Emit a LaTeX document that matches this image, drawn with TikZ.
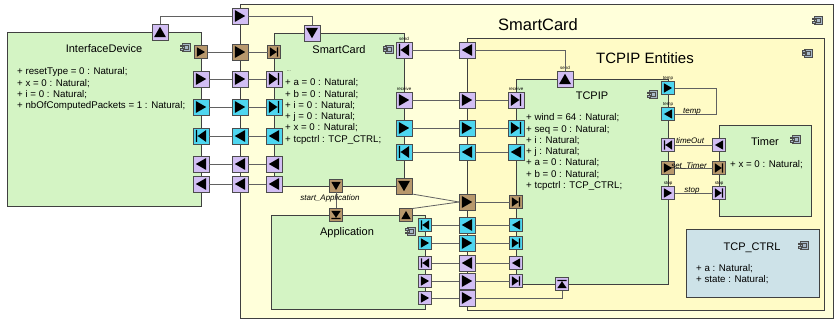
\documentclass[tikz,border=0pt]{standalone}
\usepackage{fontspec}
\setmainfont{Liberation Sans}
\usetikzlibrary{positioning}
\definecolor{frameyel}{HTML}{FFFFDA}
\definecolor{entyel}{HTML}{FFFBC6}
\definecolor{compgrn}{HTML}{D4F4C4}
\definecolor{ctrlblue}{HTML}{CDE2E8}
\definecolor{portpur}{HTML}{D2BEF4}
\definecolor{portcyan}{HTML}{4ED6F0}
\definecolor{portbrn}{HTML}{B8986C}
\definecolor{iconblue}{HTML}{A8B8C8}

\begin{document}
\begin{tikzpicture}[x=1pt, y=-1pt,
  blk/.style={draw=black!75, line width=0.9pt, inner sep=0pt, outer sep=0pt, anchor=north west},
  comp/.style={blk, fill=compgrn},
  wire/.style={draw=black!62, line width=0.8pt},
  tsz/.store in=\tsz, tsz=1,
  port/.style={draw=black!70, line width=0.8pt, inner sep=0pt, outer sep=0pt, minimum size=16pt},
  sm/.style={minimum size=13pt, tsz=0.78},
  pp/.style={port, fill=portpur},
  cp/.style={port, fill=portcyan},
  bp/.style={port, fill=portbrn},
  tri/.style={path picture={\fill[black, shift={(path picture bounding box.center)}, x=\tsz pt, y=\tsz pt] #1;}},
  goR/.style={tri={(-5.2,6) -- (5.2,0) -- (-5.2,-6) -- cycle}},
  goL/.style={tri={(5.2,6) -- (-5.2,0) -- (5.2,-6) -- cycle}},
  goU/.style={tri={(-6,-5.2) -- (0,5.2) -- (6,-5.2) -- cycle}},
  goD/.style={tri={(-6,5.2) -- (0,-5.2) -- (6,5.2) -- cycle}},
  goRb/.style={tri={(-5.2,6) -- (3.4,0) -- (-5.2,-6) -- cycle (3.8,6) rectangle (5.2,-6)}},
  goLb/.style={tri={(5.2,6) -- (-3.4,0) -- (5.2,-6) -- cycle (-3.8,6) rectangle (-5.2,-6)}},
  goUb/.style={tri={(-6,-5.2) -- (0,3.4) -- (6,-5.2) -- cycle (-6,3.8) rectangle (6,5.2)}},
  goDb/.style={tri={(-6,5.2) -- (0,-3.4) -- (6,5.2) -- cycle (-6,-3.8) rectangle (6,-5.2)}},
  ttl/.style={font=\fontsize{11}{13}\selectfont, inner sep=0pt, anchor=base},
  attr/.style={font=\fontsize{9.7}{11.3}\selectfont, align=left, inner sep=0pt, anchor=north west},
  wlab/.style={font=\fontsize{8}{9}\selectfont\itshape, inner sep=0pt, anchor=base},
  plab/.style={font=\fontsize{4.5}{5}\selectfont, inner sep=0pt},
  cicon/.pic={
    \draw[black!70, fill=iconblue, line width=0.6pt] (-3,-4) rectangle (5,4);
    \draw[black!70, line width=0.5pt] (-1,-2) rectangle (3,2);
    \draw[black!70, fill=iconblue, line width=0.6pt] (-5,-2.6) rectangle (-1.5,-0.8) (-5,0.8) rectangle (-1.5,2.6);}]
  \useasboundingbox (0,0) rectangle (834,320);

  \node[blk, fill=frameyel, minimum width=593pt, minimum height=314pt] (outer) at (240,4) {};
  \node[blk, fill=entyel, minimum width=357pt, minimum height=272pt] (ent) at (467,38) {};
  \node[comp, minimum width=194pt, minimum height=174pt] (idev) at (7,32) {};
  \node[comp, minimum width=130pt, minimum height=153pt] (scard) at (274,33) {};
  \node[comp, minimum width=154pt, minimum height=94pt] (app) at (271,215) {};
  \node[comp, minimum width=152pt, minimum height=205pt] (tcpip) at (516,79) {};
  \node[comp, minimum width=92pt, minimum height=91pt] (timer) at (719,125) {};
  \node[blk, fill=ctrlblue, minimum width=133pt, minimum height=68pt] (ctrl) at (686,229) {};

  \node[ttl, font=\fontsize{16.5}{18}\selectfont] (outerT) at (538,31) {SmartCard};
  \node[ttl, font=\fontsize{15}{17}\selectfont] (entT) at (645,64) {TCPIP Entities};
  \node[ttl] (idevT) at (104,52.5) {InterfaceDevice};
  \node[ttl] (scardT) at (339,53.5) {SmartCard};
  \node[ttl] (appT) at (347,236) {Application};
  \node[ttl] (tcpipT) at (592,100) {TCPIP};
  \node[ttl] (timerT) at (765,146) {Timer};
  \node[ttl] (ctrlT) at (752,251) {TCP\_CTRL};

  \pic at (817,20.5) {cicon};
  \pic at (807,53) {cicon};
  \pic at (185,47.5) {cicon};
  \pic at (388,49) {cicon};
  \pic at (410,231) {cicon};
  \pic at (652,94.5) {cicon};
  \pic at (795,139.5) {cicon};
  \pic at (803,245.5) {cicon};

  \node[attr] (idevA) at (17,67.5) {+ resetType = 0 : Natural;\\+ x = 0 : Natural;\\+ i = 0 : Natural;\\+ nbOfComputedPackets = 1 : Natural;};
  \node[plab] (scDots) at (289,71) {...};
  \node[attr] (scardA) at (285,78.5) {+ a = 0 : Natural;\\+ b = 0 : Natural;\\+ i = 0 : Natural;\\+ j = 0 : Natural;\\+ x = 0 : Natural;\\+ tcpctrl : TCP\_CTRL;};
  \node[attr] (tcpipA) at (526,113.5) {+ wind = 64 : Natural;\\+ seq = 0 : Natural;\\+ i : Natural;\\+ j : Natural;\\+ a = 0 : Natural;\\+ b = 0 : Natural;\\+ tcpctrl : TCP\_CTRL;};
  \node[attr] (timerA) at (730,160) {+ x = 0 : Natural;};
  \node[attr] (ctrlA) at (696,264.3) {+ a : Natural;\\+ state : Natural;};

  \node[pp,goU] (idU) at (160,32) {};
  \node[pp,goR] (oT) at (240,16) {};
  \node[pp,goD] (scT) at (312,33) {};

  \node[bp,sm,goR] (id1) at (201,52) {};
  \node[bp,goR] (o1) at (240,52) {};
  \node[bp,sm,goRb] (sc1) at (274,52) {};
  \node[pp,goR] (id2) at (201,79) {};
  \node[pp,goR] (o2) at (240,79) {};
  \node[pp,goRb] (sc2) at (274,79) {};
  \node[cp,goR] (id3) at (201,107) {};
  \node[cp,goR] (o3) at (240,107) {};
  \node[cp,goRb] (sc3) at (274,107) {};
  \node[cp,goLb] (id4) at (201,136) {};
  \node[cp,goL] (o4) at (240,136) {};
  \node[cp,goL] (sc4) at (274,136) {};
  \node[pp,goL] (id5) at (201,164) {};
  \node[pp,goL] (o5) at (240,164) {};
  \node[pp,goL] (sc5) at (274,164) {};
  \node[pp,goL] (id6) at (201,184) {};
  \node[pp,goL] (o6) at (240,184) {};
  \node[pp,goL] (sc6) at (274,184) {};

  \node[pp,goLb] (scS) at (404,50) {};
  \node[pp,goR] (scR) at (404,100) {};
  \node[cp,goR] (sc7) at (404,128) {};
  \node[cp,goLb] (sc8) at (404,152) {};
  \node[bp,goD] (scB) at (404,186) {};
  \node[bp,sm,goD] (scA) at (336,186) {};

  \node[pp,goL] (mS) at (467,50) {};
  \node[pp,goR] (mR) at (467,100) {};
  \node[cp,goR] (m7) at (467,128) {};
  \node[cp,goL] (m8) at (467,152) {};
  \node[bp,goR] (mB) at (467,202) {};
  \node[cp,goL] (m9) at (467,225) {};
  \node[cp,goR] (m10) at (467,243) {};
  \node[pp,goL] (m11) at (467,263) {};
  \node[pp,goR] (m12) at (467,281) {};
  \node[pp,goR] (m13) at (467,298) {};

  \node[pp,goRb] (tR) at (516,100) {};
  \node[cp,goRb] (t7) at (516,128) {};
  \node[cp,goL] (t8) at (516,152) {};
  \node[bp,sm,goRb] (tB) at (516,202) {};
  \node[cp,sm,goL] (t9) at (516,225) {};
  \node[cp,sm,goRb] (t10) at (516,243) {};
  \node[pp,sm,goL] (t11) at (516,263) {};
  \node[pp,sm,goRb] (t12) at (516,281) {};
  \node[pp,goU] (tS) at (565,79) {};
  \node[pp,sm,goUb] (tO) at (562,284) {};

  \node[cp,sm,goLb] (a9) at (425,225) {};
  \node[cp,sm,goR] (a10) at (425,243) {};
  \node[pp,sm,goLb] (a11) at (425,263) {};
  \node[pp,sm,goR] (a12) at (425,281) {};
  \node[pp,sm,goR] (a13) at (425,298) {};
  \node[bp,sm,goU] (aB) at (406,215) {};
  \node[bp,sm,goDb] (aA) at (336,215) {};

  \node[cp,sm,goR] (tq1) at (668,88) {};
  \node[cp,sm,goL] (tq2) at (668,114) {};
  \node[pp,sm,goLb] (tqTo) at (668,145) {};
  \node[bp,sm,goR] (tqSt) at (668,168) {};
  \node[pp,sm,goR] (tqSp) at (668,193) {};
  \node[pp,sm,goL] (tmTo) at (719,145) {};
  \node[bp,sm,goRb] (tmSt) at (719,168) {};
  \node[pp,sm,goRb] (tmSp) at (719,193) {};

  \node[plab, above=1pt of scS] (lscS) {send};
  \node[plab, above=1pt of scR] (lscR) {receive};
  \node[plab, above=1pt of tR] (ltR) {receive};
  \node[plab, above=1pt of tS] (ltS) {send};
  \node[plab, above=1pt of tq1] (ltq1) {temp};
  \node[plab, above=1pt of tq2] (ltq2) {temp};
  \node[plab, above=1pt of tqSp] (ltqSp) {stop};
  \node[plab, above=1pt of tmSp] (ltmSp) {stop};

  \draw[wire] (idU.north) |- (oT.west);
  \draw[wire] (oT.east) -| (scT.north);
  \draw[wire] (id1) -- (o1) -- (sc1);
  \draw[wire] (id2) -- (o2) -- (sc2);
  \draw[wire] (id3) -- (o3) -- (sc3);
  \draw[wire] (id4) -- (o4) -- (sc4);
  \draw[wire] (id5) -- (o5) -- (sc5);
  \draw[wire] (id6) -- (o6) -- (sc6);

  \draw[wire] (scS) -- (mS);
  \draw[wire] (mS.east) -| (tS.north);
  \draw[wire] (scR) -- (mR) -- (tR);
  \draw[wire] (sc7) -- (m7) -- (t7);
  \draw[wire] (sc8) -- (m8) -- (t8);
  \draw[wire] (scB.south east) -- (mB.west);
  \draw[wire] (aB.north east) -- (mB.west);
  \draw[wire] (mB) -- (tB);
  \draw[wire] (scA) -- (aA);
  \draw[wire] (a9) -- (m9) -- (t9);
  \draw[wire] (a10) -- (m10) -- (t10);
  \draw[wire] (a11) -- (m11) -- (t11);
  \draw[wire] (a12) -- (m12) -- (t12);
  \draw[wire] (a13) -- (m13);
  \draw[wire] (m13.east) -| (tO.south);

  \draw[wire] (tq1.east) -- ++(42,0) |- (tq2.east);
  \draw[wire] (tqTo) -- (tmTo);
  \draw[wire] (tqSt) -- (tmSt);
  \draw[wire] (tqSp) -- (tmSp);

  \node[wlab] (wStart) at (330,201) {start\_Application};
  \node[wlab] (wTemp) at (692,113.5) {temp};
  \node[wlab] (wTime) at (690,144) {timeOut};
  \node[wlab] (wSet) at (689,168.5) {set\_Timer};
  \node[wlab] (wStop) at (692,192.5) {stop};
\end{tikzpicture}
\end{document}
